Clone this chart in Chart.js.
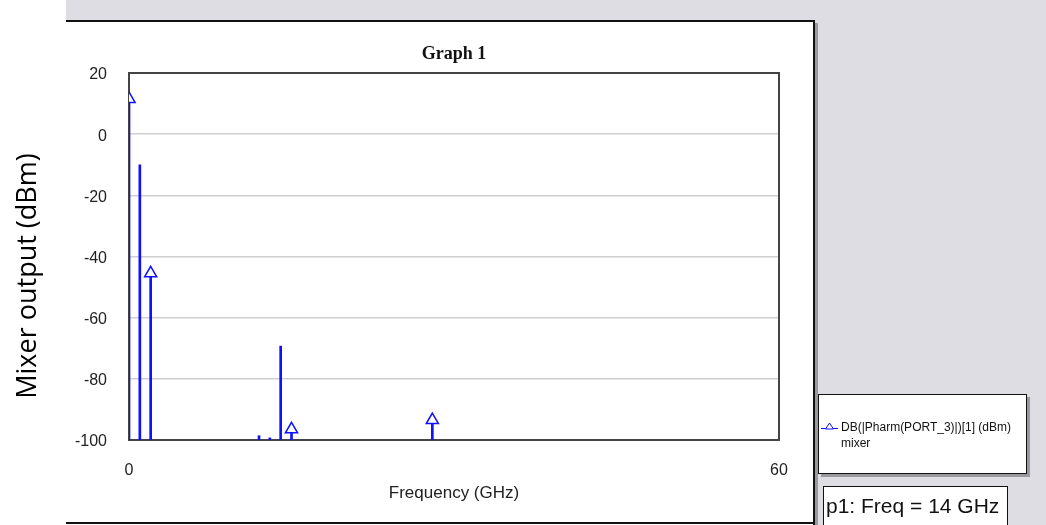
<!DOCTYPE html>
<html>
<head>
<meta charset="utf-8">
<title>Graph 1</title>
<script src="https://cdn.jsdelivr.net/npm/chart.js@4.4.1/dist/chart.umd.min.js"></script>
<style>
  html, body { margin: 0; padding: 0; background: #fff; }
  #wrap { position: relative; width: 1046px; height: 525px; }
</style>
</head>
<body>
<div id="wrap"><canvas id="graph" width="1046" height="525"></canvas></div>
<script>
// harmonic balance spectrum at PORT_3
const freqGHz = [0, 1, 2, 12, 13, 14, 15, 28];
const outputDbm = [11.5, -10, -45.5, -98.6, -99.3, -69.3, -96.5, -93.5];
const markerFreqs = [0, 2, 15, 28];
const yTicks = [20, 0, -20, -40, -60, -80, -100];
const xTicks = [0, 60];
const graphTitle = 'Graph 1';
const xTitle = 'Frequency (GHz)';
const yTitle = 'Mixer output (dBm)';
const traceLabel = 'DB(|Pharm(PORT_3)|)[1] (dBm)';
const traceDoc = 'mixer';
const markerNote = 'p1: Freq = 14 GHz';

const BLUE = '#1010ff';
const PANEL_GRAY = '#dedde3';
const FLOOR = yTicks[yTicks.length - 1];

const stems = freqGHz.map((f, i) => ({ x: f, y: [FLOOR, outputDbm[i]] }));
const markers = freqGHz
    .map((f, i) => ({ x: f, y: outputDbm[i] }))
    .filter(p => markerFreqs.includes(p.x));

const panelDecor = {
    id: 'panelDecor',
    beforeDraw(chart) {
        const c = chart.ctx;
        c.save();
        c.fillStyle = '#fff';
        c.fillRect(0, 0, 1046, 525);
        c.fillStyle = PANEL_GRAY;
        c.fillRect(66, 0, 980, 20);
        c.fillRect(815, 20, 231, 505);
        // shadow + outline of the graph window
        c.fillStyle = '#9a9a9e';
        c.fillRect(815, 23, 3, 502);
        c.strokeStyle = '#111';
        c.lineWidth = 2;
        c.beginPath();
        c.moveTo(66, 21); c.lineTo(815, 21);
        c.moveTo(814, 20); c.lineTo(814, 525);
        c.moveTo(66, 523); c.lineTo(815, 523);
        c.stroke();
        c.restore();
    },
    beforeDatasetsDraw(chart) {
        const { left, top, right, bottom } = chart.chartArea;
        const c = chart.ctx;
        c.save();
        c.strokeStyle = '#444';
        c.lineWidth = 2;
        c.strokeRect(left, top, right - left, bottom - top);
        c.restore();
    },
    afterDraw(chart) {
        const c = chart.ctx;
        const area = chart.chartArea;
        c.save();

        // graph title
        c.fillStyle = '#111';
        c.font = 'bold 18px "Liberation Serif"';
        c.textAlign = 'center';
        c.textBaseline = 'middle';
        c.fillText(graphTitle, (area.left + area.right) / 2, 54);

        // y axis title
        c.save();
        c.translate(28, 276);
        c.rotate(-Math.PI / 2);
        c.font = '27px "Open Sans"';
        c.fillStyle = '#000';
        c.fillText(yTitle, 0, 0);
        c.restore();

        // legend box
        c.fillStyle = '#9a9a9e';
        c.fillRect(1027, 397, 3, 80);
        c.fillRect(821, 474, 209, 3);
        c.fillStyle = '#fff';
        c.fillRect(818, 394, 209, 80);
        c.strokeStyle = '#111';
        c.lineWidth = 1;
        c.strokeRect(818.5, 394.5, 208, 79);
        c.strokeStyle = BLUE;
        c.beginPath();
        c.moveTo(821, 428.5); c.lineTo(838, 428.5);
        c.stroke();
        c.fillStyle = '#fff';
        c.beginPath();
        c.moveTo(829.5, 423); c.lineTo(833.5, 429); c.lineTo(825.5, 429);
        c.closePath();
        c.fill(); c.stroke();
        c.fillStyle = '#111';
        c.font = '12px "Liberation Sans"';
        c.textAlign = 'left';
        c.fillText(traceLabel, 841, 428);
        c.fillText(traceDoc, 841, 444);

        // marker readout
        c.fillStyle = '#fff';
        c.fillRect(823, 486, 185, 45);
        c.strokeStyle = '#111';
        c.strokeRect(823.5, 486.5, 184, 44);
        c.fillStyle = '#111';
        c.font = '21px "Liberation Sans"';
        c.fillText(markerNote, 826, 507);
        c.restore();
    }
};

new Chart(document.getElementById('graph'), {
    type: 'bar',
    data: {
        datasets: [{
            label: traceLabel,
            data: stems,
            backgroundColor: BLUE,
            borderWidth: 0,
            barThickness: 2,
            order: 2
        }, {
            type: 'scatter',
            label: traceDoc,
            data: markers,
            pointStyle: 'triangle',
            pointRadius: 7,
            pointBorderWidth: 1.5,
            pointBorderColor: BLUE,
            pointBackgroundColor: '#fff',
            clip: 0,
            order: 1
        }]
    },
    options: {
        responsive: false,
        animation: false,
        events: [],
        layout: { padding: { left: 66, right: 267, top: 73, bottom: 0 } },
        plugins: {
            legend: { display: false },
            tooltip: { enabled: false }
        },
        scales: {
            x: {
                type: 'linear',
                offset: false,
                min: xTicks[0],
                max: xTicks[xTicks.length - 1],
                afterBuildTicks: s => { s.ticks = xTicks.map(v => ({ value: v })); },
                afterFit: s => { s.height = 85; },
                grid: { display: false, drawTicks: false, offset: false },
                border: { display: false },
                ticks: {
                    padding: 21,
                    maxRotation: 0,
                    color: '#222',
                    font: { family: 'Liberation Sans', size: 16 }
                },
                title: {
                    display: true,
                    text: xTitle,
                    color: '#222',
                    font: { family: 'Liberation Sans', size: 17 },
                    padding: { top: 0, bottom: 21 }
                }
            },
            y: {
                min: FLOOR,
                max: yTicks[0],
                afterBuildTicks: s => { s.ticks = yTicks.map(v => ({ value: v })); },
                afterFit: s => { s.width = 63; },
                grid: {
                    drawTicks: false,
                    lineWidth: 1.5,
                    color: ctx => (ctx.tick && (ctx.tick.value === yTicks[0] || ctx.tick.value === FLOOR))
                        ? 'rgba(0,0,0,0)' : '#cfcfcf'
                },
                border: { display: false },
                ticks: {
                    padding: 22,
                    labelOffset: 2,
                    color: '#222',
                    font: { family: 'Liberation Sans', size: 16 }
                }
            }
        }
    },
    plugins: [panelDecor]
});
</script>
</body>
</html>
